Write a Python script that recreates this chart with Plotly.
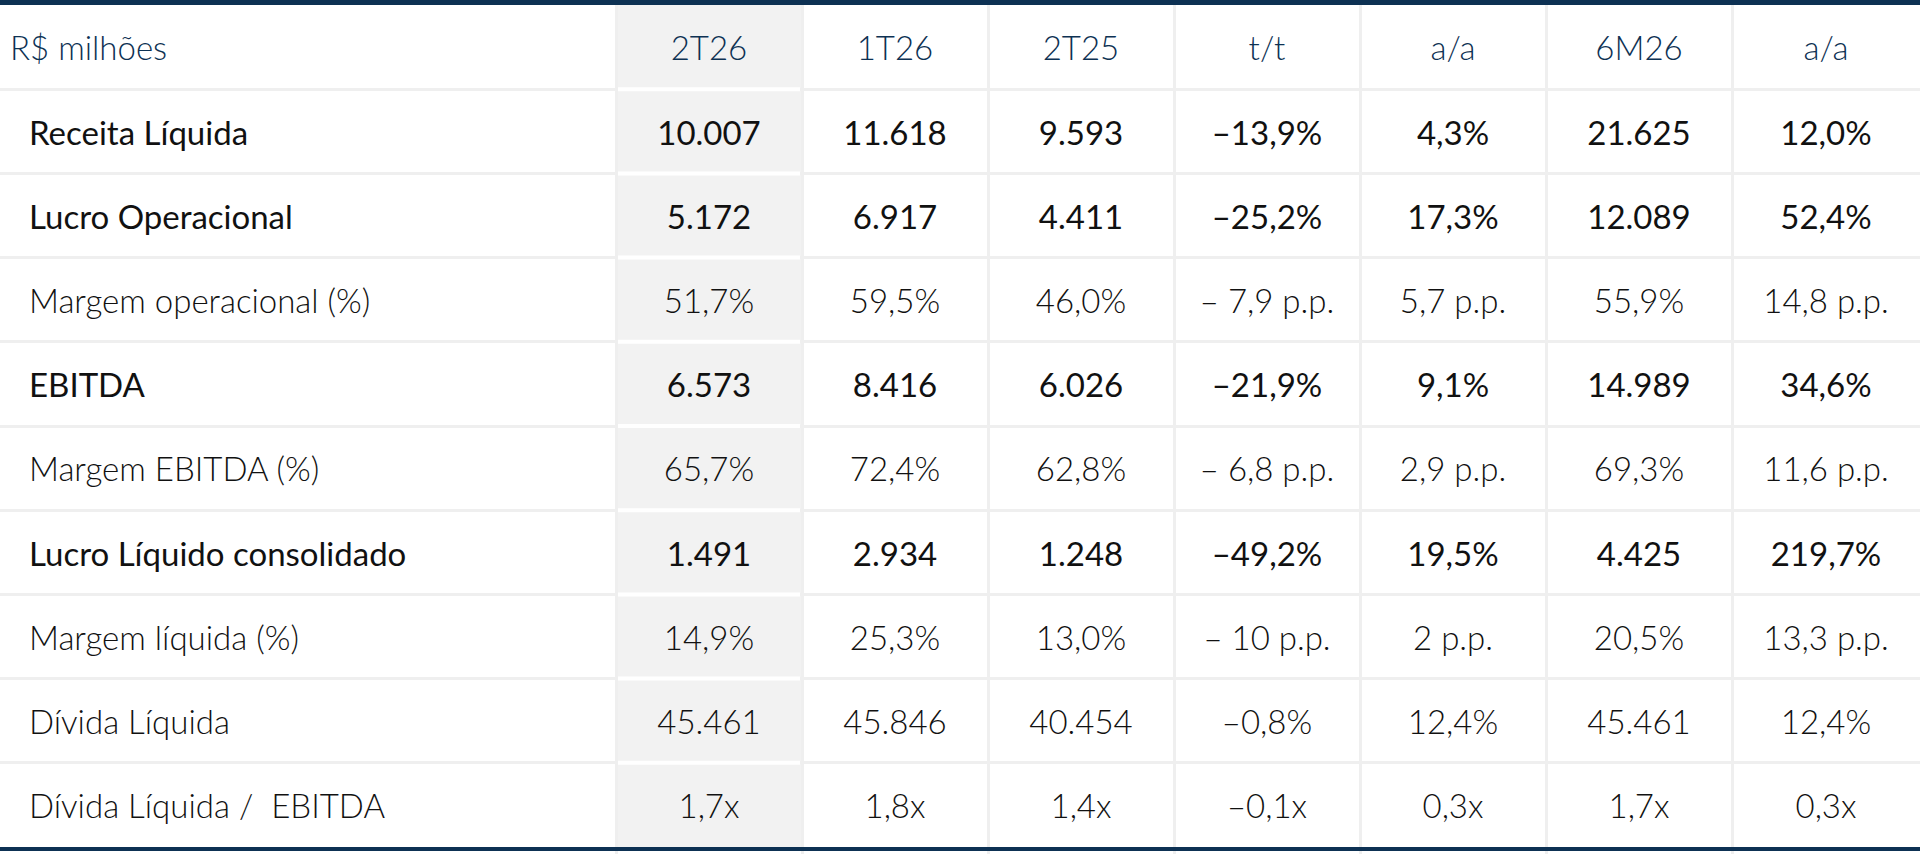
import plotly.graph_objects as go

# Table data (R$ milhões)
columns = ["R$ milhões", "2T26", "1T26", "2T25", "t/t", "a/a", "6M26", "a/a"]

rows = ["Receita Líquida", "Lucro Operacional", "Margem operacional (%)", "EBITDA",
        "Margem EBITDA (%)", "Lucro Líquido consolidado", "Margem líquida (%)",
        "Dívida Líquida", "Dívida Líquida /  EBITDA"]
highlight = [True, True, False, True, False, True, False, False, False]

q2_26 = ["10.007", "5.172", "51,7%", "6.573", "65,7%", "1.491", "14,9%", "45.461", "1,7x"]
q1_26 = ["11.618", "6.917", "59,5%", "8.416", "72,4%", "2.934", "25,3%", "45.846", "1,8x"]
q2_25 = ["9.593", "4.411", "46,0%", "6.026", "62,8%", "1.248", "13,0%", "40.454", "1,4x"]
tt = ["–13,9%", "–25,2%", "– 7,9 p.p.", "–21,9%", "– 6,8 p.p.", "–49,2%", "– 10 p.p.", "–0,8%", "–0,1x"]
aa = ["4,3%", "17,3%", "5,7 p.p.", "9,1%", "2,9 p.p.", "19,5%", "2 p.p.", "12,4%", "0,3x"]
m6_26 = ["21.625", "12.089", "55,9%", "14.989", "69,3%", "4.425", "20,5%", "45.461", "1,7x"]
aa_6m = ["12,0%", "52,4%", "14,8 p.p.", "34,6%", "11,6 p.p.", "219,7%", "13,3 p.p.", "12,4%", "0,3x"]

NAVY = "#0d3153"
GRID = "#efefef"
SHADE = "#f2f2f2"
FONT = "Lato"
SIZE = 33

# layout: column boundaries in px, rows of equal height (header = row 0)
edges = [0, 616, 802, 988, 1174, 1360, 1546, 1732, 1920]
centers = [(a + b) / 2 for a, b in zip(edges[:-1], edges[1:])]
n = len(rows) + 1
row_px = 84.2
nudge = 5 / row_px  # text sits a little below the row middle

weights = [400 if h else 300 for h in highlight]
body_cols = [q2_26, q1_26, q2_25, tt, aa, m6_26, aa_6m]
row_y = [i + nudge for i in range(1, n)]

fig = go.Figure()

# header
fig.add_trace(go.Scatter(
    x=[10], y=[nudge], text=[columns[0]], mode="text", textposition="middle right",
    textfont=dict(family=FONT, size=SIZE, color=NAVY, weight=300),
    hoverinfo="skip", showlegend=False))
fig.add_trace(go.Scatter(
    x=centers[1:], y=[nudge] * 7, text=columns[1:], mode="text", textposition="middle center",
    textfont=dict(family=FONT, size=SIZE, color=NAVY, weight=300),
    hoverinfo="skip", showlegend=False))

# row labels
fig.add_trace(go.Scatter(
    x=[29] * len(rows), y=row_y, text=rows, mode="text", textposition="middle right",
    textfont=dict(family=FONT, size=SIZE, color="#111111", weight=weights),
    hoverinfo="skip", showlegend=False))

# values
for cx, col in zip(centers[1:], body_cols):
    fig.add_trace(go.Scatter(
        x=[cx] * len(col), y=row_y, text=col, mode="text", textposition="middle center",
        textfont=dict(family=FONT, size=SIZE, color="#111111", weight=weights),
        hoverinfo="skip", showlegend=False))

# shaded 2T26 column, white separators inside it
fig.add_shape(type="rect", xref="x", yref="y", x0=edges[1], x1=edges[2],
              y0=-0.5, y1=n - 0.5, fillcolor=SHADE, line_width=0, layer="below")
for i in range(n - 1):
    fig.add_shape(type="line", xref="x", yref="y", x0=edges[1] + 2, x1=edges[2] - 2,
                  y0=i + 0.5, y1=i + 0.5, line=dict(color="white", width=4))

# thick navy rules at top and bottom
fig.add_shape(type="rect", xref="paper", yref="y", ysizemode="pixel", yanchor=-0.5,
              x0=0, x1=1, y0=0, y1=5, fillcolor=NAVY, line_width=0)
fig.add_shape(type="rect", xref="paper", yref="y", ysizemode="pixel", yanchor=n - 0.5,
              x0=0, x1=1, y0=0, y1=-4, fillcolor=NAVY, line_width=0)

fig.update_xaxes(range=[0, 1920], tickvals=edges[1:-1], showgrid=True, gridcolor=GRID,
                 gridwidth=3, showticklabels=False, zeroline=False, fixedrange=True)
fig.update_yaxes(range=[n - 0.5 + 7 / row_px, -0.5 - 5 / row_px],
                 tickvals=[i + 0.5 for i in range(n - 1)], showgrid=True, gridcolor=GRID,
                 gridwidth=3, showticklabels=False, zeroline=False, fixedrange=True)

fig.update_layout(
    width=1920, height=854,
    margin=dict(l=0, r=0, t=0, b=0),
    paper_bgcolor="white", plot_bgcolor="white",
)

# drop the page's default body margin so the whole 1920x854 figure is visible
fig.write_html("out.html", post_script="document.body.style.margin='0';",
               config={"displayModeBar": False})
